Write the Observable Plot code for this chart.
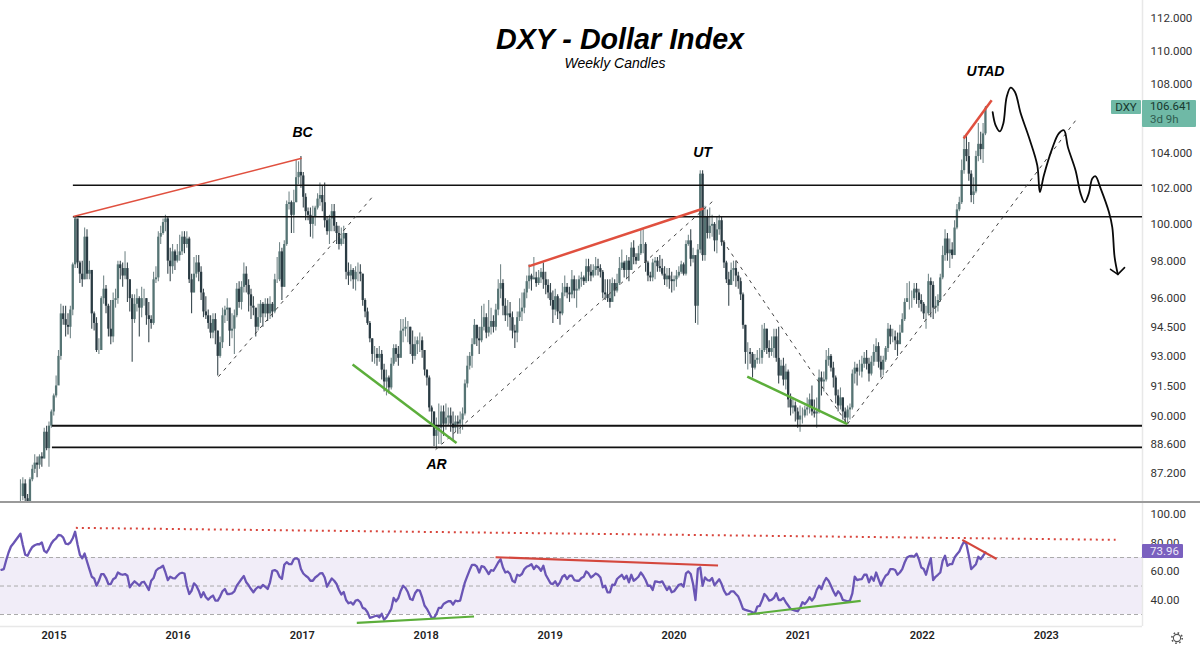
<!DOCTYPE html>
<html><head><meta charset="utf-8">
<script src="https://cdn.jsdelivr.net/npm/d3@7"></script>
<script src="https://cdn.jsdelivr.net/npm/@observablehq/plot@0.6"></script>
<style>
html,body{margin:0;padding:0;background:#fff;overflow:hidden}
#wrap{position:relative;width:1200px;height:650px;font-family:"Liberation Sans",sans-serif;overflow:hidden}
#top,#bottom{position:absolute;left:0}
#top{top:0}#bottom{top:502px}
#sep{position:absolute;left:0;top:501px;width:1200px;height:1.5px;background:#9a9a9a}
.title{position:absolute;font-style:italic;white-space:nowrap;transform:translateX(-50%);color:#000}
.tag{position:absolute;border-radius:1px;font-family:Roboto,sans-serif}
svg{display:block}
</style></head><body>
<div id="wrap">
<div id="top"></div><div id="bottom"></div><div id="sep"></div>
<div class="title" style="left:620px;top:21px;font-size:28.7px;font-weight:700;line-height:36px">DXY - Dollar Index</div>
<div class="title" style="left:615px;top:55px;font-size:14px;line-height:17px">Weekly Candles</div>
<div class="tag" style="left:1111px;top:100px;width:30px;height:14px;background:#6fb9a6;color:#17382f;font-size:11.5px;line-height:14px;text-align:center">DXY</div>
<div class="tag" style="left:1142px;top:100px;width:54px;height:27px;background:#6fb9a6;color:#17382f;font-size:11.5px;line-height:13px;padding-left:8px;box-sizing:border-box">106.641<br><span style="color:#2f5c50">3d 9h</span></div>
<div class="tag" style="left:1142px;top:544px;width:41px;height:14px;background:#7a60bf;color:#ece8f7;font-size:11.5px;line-height:14px;padding-left:8px;box-sizing:border-box">73.96</div>
<svg style="position:absolute;left:1170px;top:631px" width="14" height="14" viewBox="0 0 14 14"><circle cx="7" cy="7" r="3.6" fill="none" stroke="#555" stroke-width="1.1"/><circle cx="7" cy="7" r="5.2" fill="none" stroke="#555" stroke-width="1.6" stroke-dasharray="1.6 2.48"/></svg>
</div>
<script>
const closes=[86.1,86.7,86.0,85.4,86.9,87.4,87.7,87.6,88.0,87.9,
89.2,88.4,89.5,90.2,91.0,91.5,93.0,95.2,94.9,94.6,
94.5,95.4,97.8,100.3,97.9,97.3,97.0,99.3,97.3,97.5,
95.2,94.7,93.3,93.3,96.0,96.5,95.6,94.4,94.0,95.9,
96.0,97.8,97.6,97.2,97.6,97.0,96.0,94.9,95.7,96.0,
95.5,96.0,96.0,95.1,94.9,94.7,97.0,97.1,99.3,99.5,
100.1,100.3,98.0,97.7,98.5,98.0,98.3,98.5,99.3,98.9,
99.2,97.0,96.3,97.3,97.9,97.4,96.3,95.3,95.1,94.7,
94.2,94.9,94.3,93.0,93.7,95.1,95.4,95.5,94.3,94.4,
95.1,96.5,95.8,96.6,97.3,96.7,96.2,95.6,95.5,94.5,
95.0,95.7,95.2,95.7,95.2,95.7,95.3,97.0,97.0,98.5,
96.6,98.9,101.1,101.2,100.5,101.2,102.6,102.9,102.7,101.5,
100.7,100.5,100.0,100.4,100.9,101.4,101.6,101.2,100.2,99.6,
100.3,100.7,99.9,99.5,98.9,99.2,99.5,97.4,97.2,97.5,
97.0,97.4,97.4,97.3,95.9,95.3,94.7,93.9,93.1,93.1,
92.9,93.1,92.3,91.7,91.9,91.4,92.6,93.4,93.1,92.9,
94.3,94.4,94.5,94.5,93.6,93.0,93.6,93.8,93.8,93.3,
92.3,91.9,90.4,90.2,89.0,89.3,89.4,90.2,89.6,89.9,
90.0,89.6,89.4,89.7,89.6,89.8,90.1,91.6,92.5,93.0,
93.6,94.6,93.9,93.8,94.5,95.0,94.2,94.5,94.8,94.5,
95.4,96.5,96.8,95.6,95.1,95.2,95.0,94.3,94.2,95.0,
95.3,95.5,96.3,96.9,97.2,97.0,97.1,96.8,97.1,97.4,
97.0,96.7,96.3,95.9,95.4,96.1,95.3,95.2,96.3,96.6,
96.3,96.2,97.0,96.4,96.5,97.0,97.1,96.9,97.7,97.4,
97.2,97.5,97.7,97.6,97.4,96.3,96.2,96.0,95.8,96.8,
96.4,96.8,97.6,97.9,97.5,98.0,97.5,98.7,98.2,98.0,
98.4,98.9,98.9,97.9,97.2,97.1,97.9,98.0,97.7,97.6,
97.3,97.0,97.2,97.0,96.9,97.0,97.2,97.4,97.8,97.3,
98.9,99.1,98.1,98.3,95.6,98.6,102.8,98.3,100.4,99.5,
99.9,100.0,99.1,99.7,100.2,99.0,97.9,97.0,96.7,97.5,
97.6,97.2,96.9,96.2,94.6,93.2,93.2,93.1,92.4,92.8,
92.9,92.9,93.3,94.4,93.4,93.2,93.4,94.0,92.9,92.0,
92.5,91.8,92.2,90.8,90.4,90.5,90.2,89.8,90.0,90.0,
90.3,90.4,90.8,90.2,90.1,90.2,91.9,91.7,91.8,92.8,
93.0,92.4,91.9,91.0,90.5,90.9,90.2,89.9,90.3,90.4,
92.1,92.4,92.2,92.2,92.6,92.9,92.6,92.1,92.7,93.2,
93.5,92.7,92.3,92.8,93.4,94.4,94.0,94.0,93.8,93.6,
94.2,94.9,95.8,96.0,96.0,96.0,96.5,96.3,95.9,95.7,
95.2,95.2,96.9,96.7,95.5,95.6,95.9,97.1,98.3,99.2,
98.4,98.6,98.3,99.8,100.8,101.2,103.0,104.2,103.8,102.8,
101.6,101.8,103.8,104.5,104.2,105.1,106.6];
const highs=[86.9,87,86.9,86.2,87,87.6,88.1,88,88.1,88.2,
89.4,89.5,89.7,90.3,91.1,92,93.3,95.7,95.6,95.6,
95.2,95.6,97.9,100.4,100.2,98,98,99.8,99.7,98,
97.4,95.3,95,93.9,96.1,97.2,96.7,95.7,95.9,96.3,
96.5,98,98,97.9,98.5,97.9,97,96.2,96.2,96.5,
96.1,96.6,96.5,96,95.8,95.1,97.4,97.7,99.6,99.9,
100.3,100.5,100.4,98.7,98.9,98.6,98.9,99.4,99.6,99.6,
99.6,99.3,97.3,98.2,98.3,98.3,97.7,96.5,96.1,95.4,
95.1,95.2,95.2,94.3,94,95.5,95.6,96,95.3,95.2,
95.4,96.8,96.9,96.9,97.9,97.7,97,96.5,96.1,95.4,
95.7,95.9,95.8,96,96,96.1,95.8,97.3,98.2,99,
98.7,99.1,101.3,101.8,101.3,101.9,103.6,103.5,103.8,102.9,
101.7,100.9,100.9,101,101,101.7,102.3,102.1,102.3,100.4,
100.5,101.1,101.1,100.1,99.9,99.8,99.9,99.4,97.9,97.8,
97.6,97.7,97.9,97.8,97.3,96,95.5,94.8,93.9,93.5,
93.4,93.5,93.3,92.6,92.3,92,92.9,93.6,93.6,93.5,
94.9,94.9,95,94.8,94.5,94.3,94,94,94.2,94,
93.3,92.3,92,90.5,90.2,89.9,90.6,90.5,90.5,90.6,
90.4,90.4,90.2,90,90,90.2,90.4,91.8,93,93.2,
93.9,94.9,94.6,94.5,95.6,95.7,95.2,95.9,95.5,95.1,
95.7,97,97.8,97,96,95.9,95.8,95.3,94.6,95.3,
96,96.3,96.5,97.2,97.8,97.3,98.2,97.4,97.5,97.6,
97.9,97.4,97,96.8,96.4,96.5,96.2,96,96.8,97.2,
96.8,96.6,97.5,97.2,97,97.2,97.4,97.2,98.1,98.1,
97.8,97.8,98.2,98.1,97.8,97.5,97,97,97,97.1,
97,97.3,98.2,98.6,98,98.3,98.2,99,99.1,98.4,
98.8,99.7,99.7,99,98,97.4,98.1,98.2,98.2,98.3,
98.1,97.7,97.6,97.6,97.4,97.2,97.5,97.7,98,97.9,
99.1,99.4,99.7,98.7,98,98.9,103,103,101,100.8,
100.9,100.5,100.1,100.4,100.5,100.4,99.1,98,97.4,97.9,
98,98,97.4,97.1,96.3,94.6,93.7,93.4,93.2,93.1,
93.3,93.4,94.6,94.7,94.4,93.8,94,94.4,94.4,94.5,
92.8,92.9,92.6,92.3,91.1,90.9,90.7,90.4,90.5,90.4,
90.5,90.9,91.1,91.5,90.8,90.9,92.3,92.2,92.2,93.3,
93.4,93.1,92.7,92,91.3,91.4,90.9,90.4,90.5,90.6,
92.3,92.7,92.6,92.8,93,93.2,93.3,92.9,93,93.6,
93.9,93.7,93,93,93.5,94.7,94.6,94.4,94.3,94.2,
94.6,95.2,96,96.8,96.9,96.4,96.8,96.8,96.5,96.2,
95.8,95.6,97.3,97.1,96.9,96.1,96.2,97.3,98.8,99.7,
99.5,99.2,99,100.2,101.1,101.5,103.6,105,105.1,104.6,
103,102.6,104.1,105.7,105.2,105.7,106.7];
const lows=[85.7,85.9,85.6,85.2,85.4,86.8,87.2,87,87.4,87.5,
87.9,88.3,87.5,89.4,90,90.9,91.6,92.8,94.6,94,
94.1,93.9,95.1,97.6,97.6,96.8,96.6,97,97,97,
94.4,94.3,93.2,93.1,93.5,95.7,95.2,94,93.6,93.7,
95.5,95.7,97,96.6,97,95.8,95.3,92.7,94.7,95.3,
94,95,95.6,94.6,93.7,94.4,94.6,96.8,96.9,98.9,
99.4,99.6,97.3,96.9,97.3,97.5,97.9,98,98.3,98.4,
98.7,96.8,95.2,96.3,97.1,96.9,95.9,95,94.9,94.4,
93.9,93.9,93.6,92,92.9,93.4,94.7,94.8,93.5,93.9,
93.1,95,95.5,95.4,96.3,96.3,95.3,94.9,95.1,94,
94.3,94.7,94.5,95,94.8,94.9,95,95.2,96.8,96.9,
95.9,96.6,98.8,100.8,99.5,99.5,101.2,102.2,102,100.9,
100.2,100.2,99.3,99.2,99.9,100.8,101,100.7,99.8,99.4,
98.9,99.6,99.6,98.9,98.6,98.8,98.9,97,96.7,96.9,
96.5,96.4,96.9,96.9,95.6,95,94.6,93.7,92.7,92.6,
92.5,92.7,91.8,91.2,91,91.1,91.3,92.5,92.7,92.5,
93,93.7,94,93.7,93.1,92.6,92.8,93.1,93.2,92.9,
92,91.5,90.2,89.5,88.5,88.4,88.6,88.6,89,89.3,
89.5,89.2,88.8,89.2,89.1,89.1,89.3,90,91.4,92.3,
92.4,93.6,93.5,93.1,93.7,94.3,93.9,94,94.1,94.2,
94.3,95.1,96,95.1,94.8,94.5,94.3,93.9,93.4,93.7,
94.8,94.8,95.2,96,96.5,96.4,97,96.6,96.7,96.8,
96.5,96.2,96,95.6,94.7,95.1,94.9,94.6,95.1,96.1,
96,95.8,96,96,95.5,96.4,96.6,96.7,96.8,96.9,
96.9,97.1,97.2,97.2,97.1,96,95.9,95.8,95.5,95.9,
96.1,96.3,96.7,97.5,97.1,97,96.9,97.5,97.8,97.8,
98,98.3,98.4,97.4,96.9,96.9,96.9,97,97.4,97.4,
97.2,96.7,96.6,96.5,96.3,96.4,96.6,97.1,97.3,97.2,
97.2,98.8,97.7,97.9,94.7,94.6,98.4,98,98,99.2,
99.2,99.3,98.5,98.4,99.4,98.8,97.6,96.8,95.6,96.7,
96.9,96.6,96.5,95.9,94.4,92.6,92.3,92.6,91.9,92.3,
92.6,92.6,92.6,93.2,93.1,92.9,93,92.9,92.7,91.6,
92,91.5,91.3,90.4,90,90.1,89.7,89.4,89.2,89.6,
89.9,90,90.1,90,89.9,89.4,90.1,91,91.2,91.7,
92.5,92.2,91.4,90.6,90.2,90.3,89.8,89.6,89.6,89.8,
90.3,91.6,91.5,92,91.9,92.4,92.3,91.7,92,92.5,
92.7,92.4,91.9,92,92.7,93.2,93.6,93.7,93.3,93,
93.7,94.2,94.8,95.8,95.4,95.5,95.9,95.7,95.5,95.3,
94.9,94.4,95.1,95,94.9,95.2,95.3,95.8,97,98,
98,97.6,98.1,98.3,99.7,100.7,101.1,102.8,103.5,102.4,
101.2,101.1,101.7,103.5,103.6,103.4,105];
const rsiValues=[61.4,61.9,68.1,73.5,77.7,79.8,82.1,84.4,86.7,78.8,71.9,71.2,74.7,77.4,78.6,79.3,79.3,80.5,74.7,73.5,
76.3,79.8,82.1,83.5,85.8,85.6,84,79.8,79.3,80.5,83.5,88.1,79.3,71.9,69.5,72.8,67.2,61.9,56.5,55.3,
50.2,53.7,58.4,58.4,55.6,51.4,51.4,54.7,55.8,59.5,58.4,57.9,58.4,57.2,49.1,51.4,53.3,51.9,50.2,52.6,
53,50.2,47.2,53.7,55.6,60.7,62.3,63,64.2,59.5,54.2,56.5,55.6,55.3,57.2,58.8,59.3,58.8,50.2,44.4,
46.7,51.9,50.2,46.7,42.1,45.6,42.1,40.5,42.1,43.3,39.8,39.8,42.6,46.3,47.9,44.4,44.4,44.9,46.3,50.2,
52.6,54.9,57,52.6,50.5,47.9,45.6,47.9,49.5,48.6,50.7,49.5,47.9,52.6,60.7,61.2,60.2,56.5,54.9,64.9,
66.7,65.3,65.3,68.8,69.5,68.6,61.9,58.8,57.2,56,53.7,53.7,56,57.2,58.8,59.1,56,49.5,52.6,55.3,
53.7,51.4,47.2,44,45.8,40.2,37.9,38.6,37,39.8,40.2,38.6,34.7,34,31.6,27.7,28.1,28.8,29.3,28.1,
30.5,26.3,28.1,30.9,34,41.6,39.3,41.6,46.7,50.2,48.6,45.6,40.9,40.2,44.9,47.2,46.7,42.1,36.3,34,
30.9,27.7,27.7,30.5,34.7,34.7,37.4,38.4,39.3,39.3,37,39.8,39.3,39.8,46.3,52.6,57,61.2,64.9,64.9,
63.7,59.5,64,63.5,61.2,58.4,61.2,60.7,63.5,66.5,68.8,63,59.5,60.2,58.4,53.7,52.6,57.9,57.2,58.4,
61.9,63.5,64.2,65.3,61.9,64.2,63,60.7,64.2,57.9,54.9,51.9,51.4,53.3,50.2,52.6,56.5,57.7,54.9,57.2,
57.2,54.2,53.7,53.7,55.6,56.5,60.2,58.8,56,57.2,58.8,57.9,56,49.1,50.2,45.6,45.6,50.9,50.7,54.9,
56.5,57.9,54.9,57.2,52.6,57.9,53.7,54.9,56.5,59.5,57.2,54.2,50.2,50.2,47.2,53.3,53,52.6,53.3,50.2,
47.2,49.5,45.6,46.3,48.6,50.9,51.4,49.5,58.8,60.2,58.4,51.4,40.2,61.9,63,50.2,56,54.2,53.7,55.6,
50.5,52.6,54.7,51.4,46.7,44,44.4,46.3,46.3,44.4,42.6,38.6,34,33.3,32.8,32.3,31.6,30.9,35.6,36,
39.8,44.4,42.6,39.8,40.2,41.6,44.9,40.2,40.2,41.6,38.6,36.3,34,33.3,32.8,32.3,34.7,38.6,37.4,39.3,
42.1,39.8,42.1,47.2,50.2,47.9,52.6,55.6,53.7,50.2,46.3,43.3,46.3,44.4,40.2,39.8,39.3,39.8,44.9,56.5,
54.2,54.7,54.9,57.9,57.9,52.6,56.5,53.7,59.5,54.9,50.2,54.2,57.2,58.4,61.9,61.9,61.2,57.9,59.5,61.9,
66.5,70,70.9,71.2,70.5,72.7,68.8,63,61.9,57.9,64.2,69.5,54.2,56.5,57.9,59.5,67.7,71.2,64.2,65.3,
65.3,70,72.3,74.2,78.1,81.2,79.3,71.2,61.9,63.5,65.3,70.5,68.8,71.2,73.5];

const priceTicks=[112,110,108,104,102,100,98,96,94.5,93,91.5,90,88.6,87.2];
const rsiTicks=[100,80,60,40];
const rsiLevels=[30,50,70];
const yearTicks=[2015,2016,2017,2018,2019,2020,2021,2022,2023];

const supports=[{y:102.17,from:2015.156,w:1.5},{y:100.42,from:2015.156,w:1.5},{y:89.52,from:2014.987,w:1.8},{y:88.46,from:2014.987,w:1.8}];
const redLines=[
 {a:2015.156,pa:100.44,b:2016.995,pb:103.7,w:1.5},
 {a:2018.826,pa:97.72,b:2020.237,pb:100.88,w:2.5},
 {a:2022.334,pa:104.84,b:2022.56,pb:107.06,w:2.5}];
const greenLines=[
 {a:2017.406,pa:92.59,b:2018.245,pb:88.67},
 {a:2020.589,pa:91.97,b:2021.396,pb:89.6}];
const dashLines=[
 {a:2016.326,pa:91.97,b:2017.576,pb:101.6},
 {a:2018.076,pa:88.35,b:2020.31,pb:101.27},
 {a:2021.396,pa:89.6,b:2023.25,pb:106.0},
 {a:2020.39,pa:99.12,b:2021.396,pb:89.6}];
const labels=[
 {t:"BC",yr:2017.003,p:105.19},{t:"UT",yr:2020.229,p:104.04},
 {t:"UTAD",yr:2022.51,p:108.77},{t:"AR",yr:2018.084,p:87.63}];
const sketchYears=[2022.568,2022.592,2022.627,2022.654,2022.681,2022.713,2022.748,2022.794,2022.860,2022.928,2022.949,2022.981,2023.049,2023.102,2023.143,2023.175,2023.237,2023.277,2023.310,2023.344,2023.372,2023.398,2023.439,2023.506,2023.533,2023.552,2023.578];
const sketchPrices=[106.37,105.6,105.25,105.71,107.25,107.81,107.55,106.3,104.92,103.3,101.79,102.73,104.27,105.13,105.31,104.34,103.01,101.72,101.22,101.72,102.56,102.68,102.0,100.68,99.85,98.22,97.29];
const arrowYears=[2023.519,2023.578,2023.632];
const arrowPrices=[97.56,97.29,97.65];

const rsiRed=[{a:2018.56,va:70.2,b:2020.354,vb:64.4},{a:2022.323,va:82.4,b:2022.6,vb:69}];
const rsiGreen=[{a:2017.44,va:24.2,b:2018.386,vb:28.6},{a:2020.59,va:30,b:2021.503,vb:39.6}];
const rsiDotted={a:2015.176,va:90.8,b:2023.56,vb:82.4};

const Y=d=>{const y=Math.floor(d);const s=Date.UTC(y,0,1),e=Date.UTC(y+1,0,1);return new Date(s+(d-y)*(e-s));};
const xDomain=[Y(2014.568),Y(2023.777)];
const week=7*864e5, t0=+Y(2014.729);
const candles=closes.map((c,i)=>({date:new Date(t0+i*week),open:i?closes[i-1]:c,close:c,high:highs[i],low:lows[i]}));
const last=+candles[candles.length-1].date;
const rsi=rsiValues.map((v,j)=>({date:new Date(last-(rsiValues.length-1-j)*week),v}));
const seg=(arr)=>arr.map(d=>({x1:Y(d.a),y1:d.pa??d.va,x2:Y(d.b),y2:d.pb??d.vb,w:d.w}));
const font="Roboto, sans-serif";
const UP="#567474",DOWN="#2a3b43";
const axisText=(ticks,digits)=>Plot.text(ticks,{x:()=>xDomain[1],y:d=>d,text:d=>d.toFixed(digits),dx:8,textAnchor:"start",fontSize:11.5,fill:"#333"});

const topPlot=Plot.plot({
 width:1200,height:502,marginLeft:0,marginRight:58,marginTop:0,marginBottom:0,
 style:{background:"transparent",fontFamily:font},
 x:{type:"utc",domain:xDomain,axis:null},
 y:{type:"log",domain:[85.82,113.1],axis:null},
 marks:[
  Plot.ruleX([xDomain[1]],{stroke:"#e8e8e8",strokeWidth:1.5}),
  axisText(priceTicks,3),
  Plot.ruleX(candles,{x:"date",y1:"low",y2:"high",stroke:d=>d.close>=d.open?"#75888a":"#3a494f",strokeWidth:1.1,clip:true}),
  Plot.ruleX(candles,{x:"date",y1:"open",y2:"close",stroke:d=>d.close>=d.open?UP:DOWN,strokeWidth:2.3,clip:true}),
  Plot.ruleY(supports,{y:"y",x1:d=>Y(d.from),x2:xDomain[1],stroke:"#111",strokeWidth:d=>d.w}),
  Plot.link(seg(dashLines),{x1:"x1",y1:"y1",x2:"x2",y2:"y2",stroke:"#444",strokeWidth:1,strokeDasharray:"3.5 4.5",curve:"linear"}),
  Plot.link(seg(redLines),{x1:"x1",y1:"y1",x2:"x2",y2:"y2",stroke:"#e0503f",strokeWidth:d=>d.w,curve:"linear"}),
  Plot.link(seg(greenLines),{x1:"x1",y1:"y1",x2:"x2",y2:"y2",stroke:"#5cae3b",strokeWidth:2.5,curve:"linear"}),
  Plot.line(sketchYears.map((d,i)=>({x:Y(d),y:sketchPrices[i]})),{x:"x",y:"y",stroke:"#0a0a0a",strokeWidth:1.8,curve:"catmull-rom"}),
  Plot.line(arrowYears.map((d,i)=>({x:Y(d),y:arrowPrices[i]})),{x:"x",y:"y",stroke:"#0a0a0a",strokeWidth:1.6}),
  Plot.text(labels,{x:d=>Y(d.yr),y:"p",text:"t",fontSize:14,fontWeight:700,fontStyle:"italic",fontFamily:"Liberation Sans",fill:"#000"})
 ]
});
document.getElementById("top").append(topPlot);

const botPlot=Plot.plot({
 width:1200,height:148,marginLeft:0,marginRight:58,marginTop:0,marginBottom:24,
 style:{background:"transparent",fontFamily:font},
 x:{type:"utc",domain:xDomain,axis:null},
 y:{domain:[21.6,108.6],axis:null},
 marks:[
  Plot.rect([{}],{x1:xDomain[0],x2:xDomain[1],y1:rsiLevels[0],y2:rsiLevels[2],fill:"#f1edf8"}),
  Plot.ruleY(rsiLevels,{stroke:"#aaa",strokeWidth:1,strokeDasharray:"4 3"}),
  Plot.ruleY([21.6],{stroke:"#e8e8e8",strokeWidth:1.5}),
  Plot.ruleX([xDomain[1]],{stroke:"#e8e8e8",strokeWidth:1.5}),
  axisText(rsiTicks,2),
  Plot.axisX({ticks:yearTicks.map(y=>Y(y)),tickFormat:d=>String(d.getUTCFullYear()),tickSize:0,tickPadding:5,label:null,fontSize:11,fontWeight:600,color:"#222"}),
  Plot.line(rsi,{x:"date",y:"v",stroke:"#6a55b5",strokeWidth:2.3,clip:true}),
  Plot.link(seg([rsiDotted]),{x1:"x1",y1:"y1",x2:"x2",y2:"y2",stroke:"#d8453c",strokeWidth:2,strokeDasharray:"2 4",curve:"linear"}),
  Plot.link(seg(rsiRed),{x1:"x1",y1:"y1",x2:"x2",y2:"y2",stroke:"#d4473d",strokeWidth:2.2,curve:"linear"}),
  Plot.link(seg(rsiGreen),{x1:"x1",y1:"y1",x2:"x2",y2:"y2",stroke:"#5cae3b",strokeWidth:2.2,curve:"linear"})
 ]
});
document.getElementById("bottom").append(botPlot);
</script>
</body></html>
